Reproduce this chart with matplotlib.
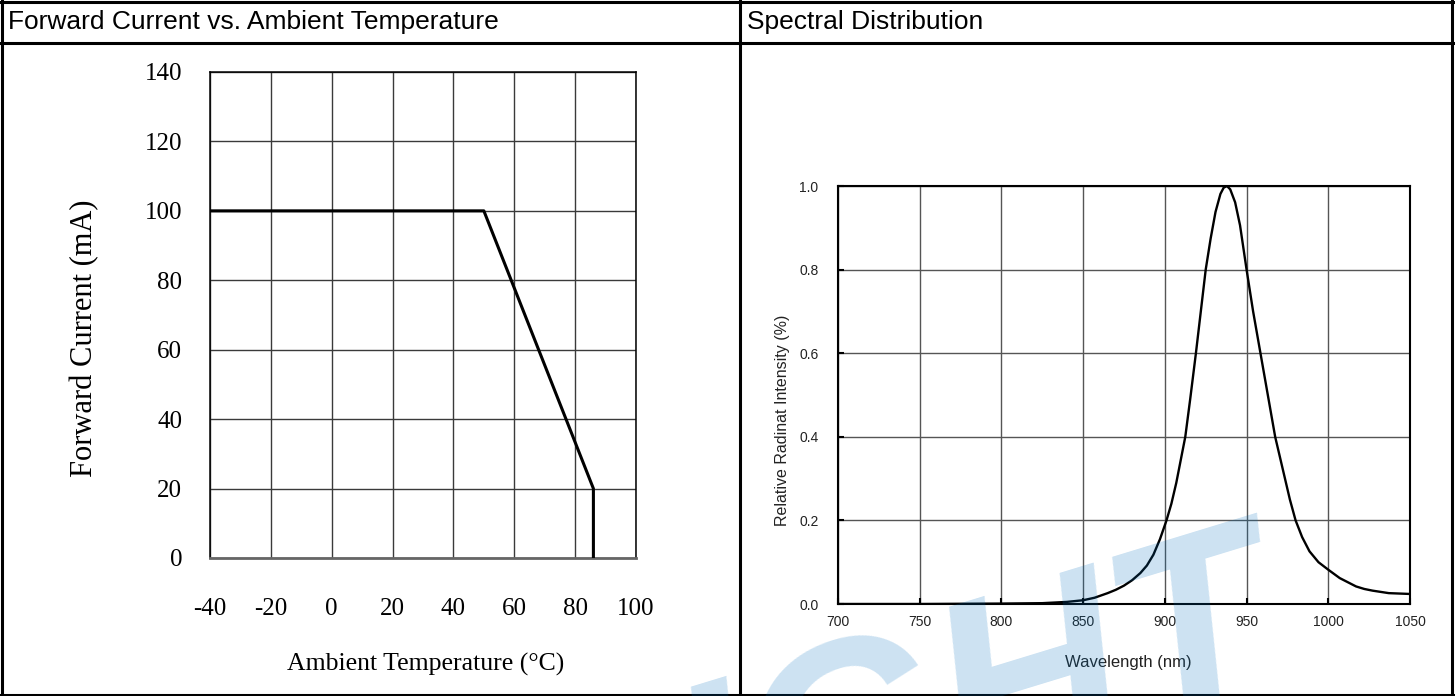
import matplotlib.pyplot as plt
from matplotlib.lines import Line2D

plt.rcParams['axes.unicode_minus'] = False

# forward current derating curve
temp = [-40, 50, 86, 86]
current = [100, 100, 20, 0]
temp_ticks = [-40, -20, 0, 20, 40, 60, 80, 100]
current_ticks = [0, 20, 40, 60, 80, 100, 120, 140]

# spectral distribution
wavelength = [700, 750, 800, 825, 840, 850, 857, 865, 870, 875, 880, 885, 889, 893,
              897, 901, 904, 907, 910, 912.5, 915.5, 919, 922, 925, 928, 931, 934,
              936, 938, 940, 943, 946, 950, 954, 958.5, 963, 967.5, 973.5, 976.5,
              980, 984, 988.5, 994, 1000, 1007, 1012, 1017, 1022, 1027, 1037, 1050]
intensity = [0.0, 0.0, 0.001, 0.002, 0.005, 0.009, 0.015, 0.026, 0.034, 0.044,
             0.057, 0.074, 0.092, 0.118, 0.155, 0.2, 0.24, 0.29, 0.35, 0.4, 0.49,
             0.6, 0.7, 0.8, 0.874, 0.938, 0.981, 0.996, 1.0, 0.992, 0.961, 0.906,
             0.8, 0.7, 0.6, 0.5, 0.4, 0.3, 0.25, 0.2, 0.16, 0.126, 0.1, 0.082, 0.062,
             0.052, 0.042, 0.036, 0.032, 0.026, 0.024]
wl_ticks = [700, 750, 800, 850, 900, 950, 1000, 1050]
int_ticks = [0.0, 0.2, 0.4, 0.6, 0.8, 1.0]

W, H = 1455, 696
fig = plt.figure(figsize=(W / 100, H / 100), dpi=100)


def box(x0, y0, x1, y1):
    # pixel box (top-left origin) -> figure fraction rect
    return [x0 / W, 1 - y1 / H, (x1 - x0) / W, (y1 - y0) / H]


def hline(x0, x1, y, lw=2.2):
    fig.add_artist(Line2D([x0 / W, x1 / W], [1 - y / H, 1 - y / H],
                          transform=fig.transFigure, color='black', lw=lw))


def vline(x, y0, y1, lw=2.2):
    fig.add_artist(Line2D([x / W, x / W], [1 - y0 / H, 1 - y1 / H],
                          transform=fig.transFigure, color='black', lw=lw))


# table frame
hline(0, W, 1.5)
hline(0, W, 43)
hline(0, W, 694.5)
vline(2, 0, H)
vline(740, 0, H)
vline(1452, 0, H)

fig.text(8 / W, 1 - 22 / H, 'Forward Current vs. Ambient Temperature',
         fontsize=19, family='Liberation Sans', va='center')
fig.text(747 / W, 1 - 22 / H, 'Spectral Distribution',
         fontsize=19, family='Liberation Sans', va='center')

# left chart
ax1 = fig.add_axes(box(210, 72, 636, 558))
ax1.set_facecolor('none')
ax1.plot(temp, current, color='black', lw=2.2, zorder=3)
ax1.set_xlim(-40, 100)
ax1.set_ylim(0, 140)
ax1.set_xticks(temp_ticks)
ax1.set_yticks(current_ticks)
ax1.grid(True, color='#3a3a3a', lw=1.0)
ax1.tick_params(axis='both', length=0, labelsize=18)
ax1.tick_params(axis='y', pad=20)
ax1.tick_params(axis='x', pad=29)
for lab in ax1.get_xticklabels() + ax1.get_yticklabels():
    lab.set_family('Liberation Serif')
ax1.spines['bottom'].set_color('#666666')
ax1.spines['bottom'].set_linewidth(2)
for s in ['left', 'top', 'right']:
    ax1.spines[s].set_linewidth(1.1)
fig.text(85 / W, 1 - 338 / H, 'Forward Current (mA)', rotation=90,
         fontsize=22, family='Liberation Serif', ha='center', va='center')
fig.text(426 / W, 1 - 664 / H, 'Ambient Temperature (°C)',
         fontsize=18.5, family='Liberation Serif', ha='center', va='center')

# right chart
ax2 = fig.add_axes(box(838, 186, 1410, 604))
ax2.set_facecolor('none')
ax2.plot(wavelength, intensity, color='black', lw=1.7, zorder=3)
ax2.set_xlim(700, 1050)
ax2.set_ylim(0, 1.0)
ax2.set_xticks(wl_ticks)
ax2.set_yticks(int_ticks)
ax2.set_yticklabels([f'{v:.1f}' for v in int_ticks])
ax2.grid(True, color='#555555', lw=1.0)
ax2.tick_params(axis='both', direction='in', length=4, width=1.5, labelsize=10,
                labelcolor='#222222')
ax2.tick_params(axis='y', pad=14)
ax2.tick_params(axis='x', pad=8)
for lab in ax2.get_xticklabels() + ax2.get_yticklabels():
    lab.set_family('Liberation Sans')
for s in ax2.spines.values():
    s.set_linewidth(1.5)
fig.text(782 / W, 1 - 420 / H, 'Relative Radinat Intensity (%)', rotation=90,
         fontsize=11.5, family='Liberation Sans', ha='center', va='center',
         color='#222222')
fig.text(1128 / W, 1 - 663 / H, 'Wavelength (nm)', color='#222222',
         fontsize=12, family='Liberation Sans', ha='center', va='center')

# faint watermark, partly off the bottom edge as in the source
fig.text(705 / W, 1 - 865 / H, 'IGHT', fontsize=185, fontweight='bold',
         style='italic', family='Liberation Sans', color='#0070c0', alpha=0.2,
         rotation=17, rotation_mode='anchor', ha='left', va='baseline', zorder=10)

fig.savefig('out.png', dpi=100)
